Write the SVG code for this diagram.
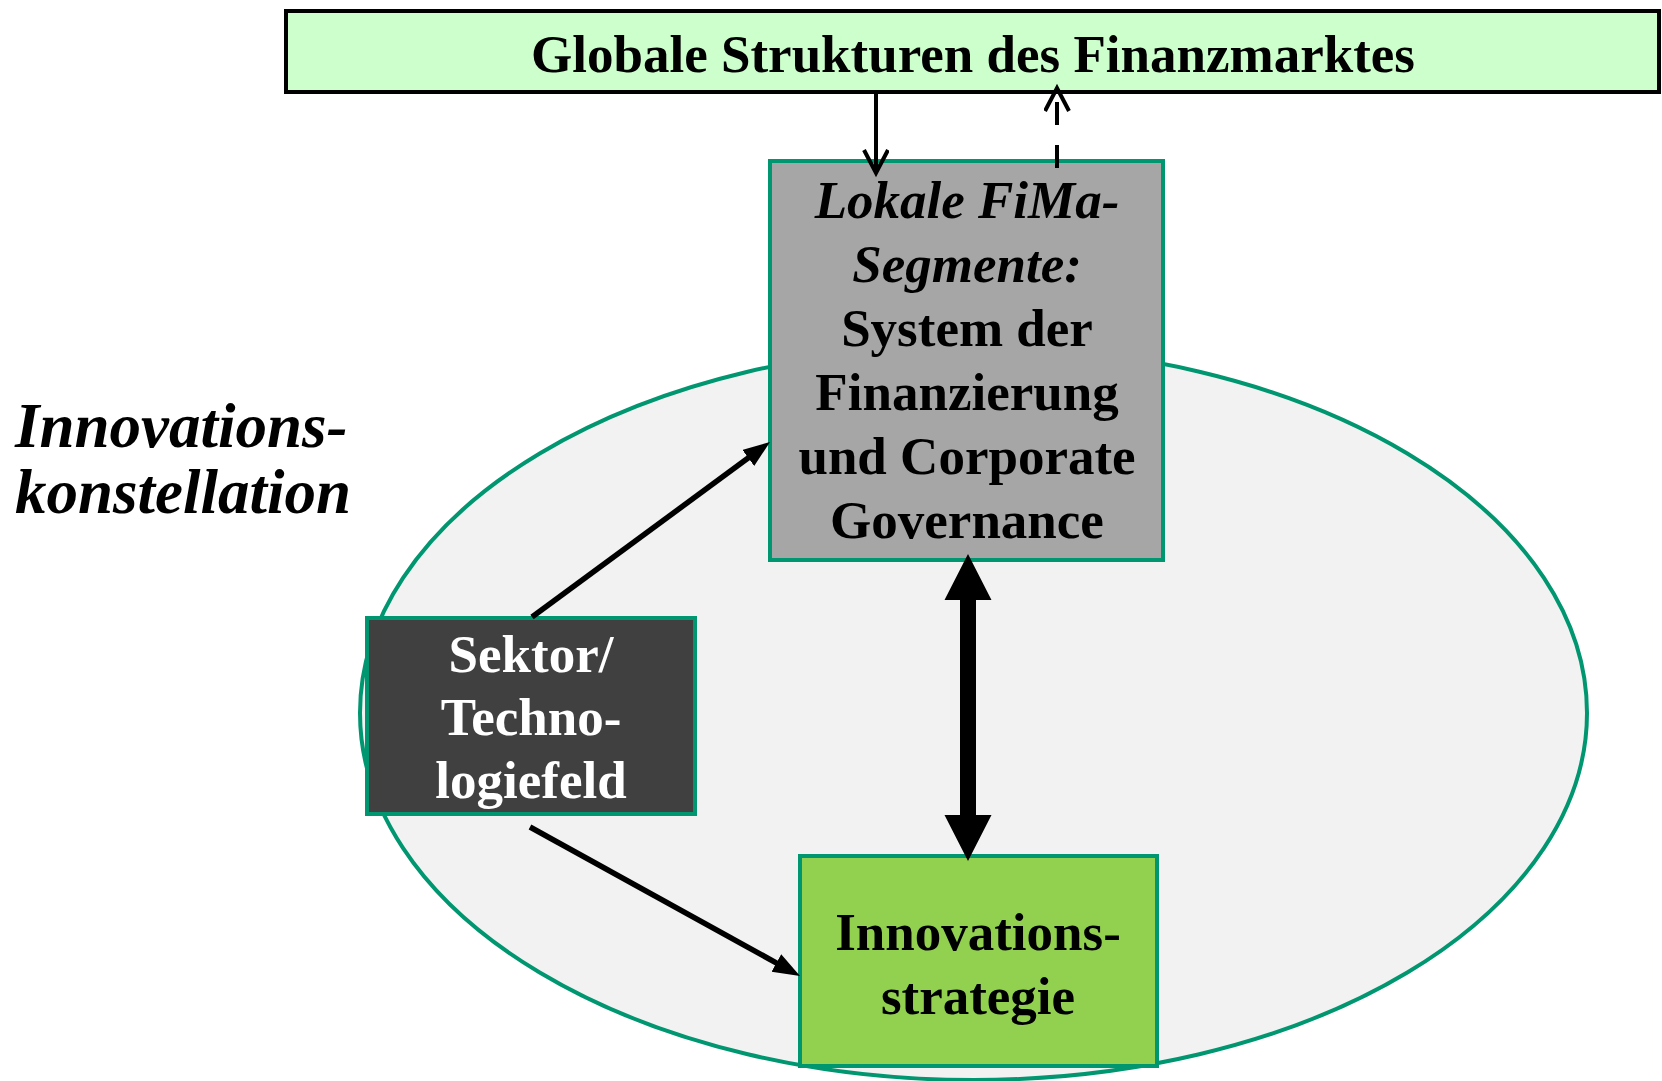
<svg xmlns="http://www.w3.org/2000/svg" width="1662" height="1081" viewBox="0 0 1662 1081">
<style>
text{font-family:"Liberation Serif","Times New Roman",serif;font-weight:bold;font-size:53px;text-anchor:middle;fill:#000}
.it{font-style:italic}
.node{stroke:#009670;stroke-width:4}
.conn{stroke:#000;fill:none}
</style>
<defs>
<marker id="tri" markerUnits="userSpaceOnUse" markerWidth="28" markerHeight="22" refX="7" refY="10" orient="auto">
<path d="M0,0 L27,10 L0,20 z" fill="#000"/>
</marker>
<marker id="vee" markerUnits="userSpaceOnUse" markerWidth="30" markerHeight="30" refX="24" refY="13" orient="auto">
<path d="M1,1 L24,13 L1,25" fill="none" stroke="#000" stroke-width="4" stroke-linejoin="miter"/>
</marker>
</defs>
<rect width="1662" height="1081" fill="#fff"/>
<ellipse id="constellation" cx="973.5" cy="713" rx="613.5" ry="367" fill="#f2f2f2" stroke="#009670" stroke-width="4"/>
<g id="label-innovationskonstellation">
<text class="it" x="15" y="447" style="text-anchor:start;font-size:63px">Innovations-</text>
<text class="it" x="15" y="513" style="text-anchor:start;font-size:63px">konstellation</text>
</g>
<g id="global">
<rect x="286" y="11" width="1373" height="81" fill="#ccffcc" stroke="#000" stroke-width="4"/>
<text x="973" y="72">Globale Strukturen des Finanzmarktes</text>
</g>
<g id="fima">
<rect class="node" x="770" y="161" width="393" height="399" fill="#a6a6a6"/>
<text class="it" x="967" y="218">Lokale FiMa-</text>
<text class="it" x="967" y="282">Segmente:</text>
<text x="967" y="346">System der</text>
<text x="967" y="410">Finanzierung</text>
<text x="967" y="474">und Corporate</text>
<text x="967" y="538">Governance</text>
</g>
<g id="sektor">
<rect class="node" x="367" y="618" width="328" height="196" fill="#404040"/>
<text x="531" y="672" style="fill:#fff">Sektor/</text>
<text x="531" y="735" style="fill:#fff">Techno-</text>
<text x="531" y="798" style="fill:#fff">logiefeld</text>
</g>
<g id="strategie">
<rect class="node" x="800" y="856" width="357" height="210" fill="#92d050"/>
<text x="978" y="950">Innovations-</text>
<text x="978" y="1014">strategie</text>
</g>
<g id="connectors">
<line class="conn" x1="876" y1="93" x2="876" y2="173" stroke-width="4" marker-end="url(#vee)"/>
<line class="conn" x1="1057" y1="168" x2="1057" y2="88" stroke-width="4" stroke-dasharray="23 20" marker-end="url(#vee)"/>
<line class="conn" x1="532" y1="617" x2="753.9" y2="453.8" stroke-width="5.5" marker-end="url(#tri)"/>
<line class="conn" x1="530" y1="827" x2="782.5" y2="966.3" stroke-width="5.5" marker-end="url(#tri)"/>
<path d="M968,554 L991.5,600 L976,600 L976,815 L991.5,815 L968,861 L944.5,815 L960,815 L960,600 L944.5,600 Z" fill="#000"/>
</g>
</svg>
